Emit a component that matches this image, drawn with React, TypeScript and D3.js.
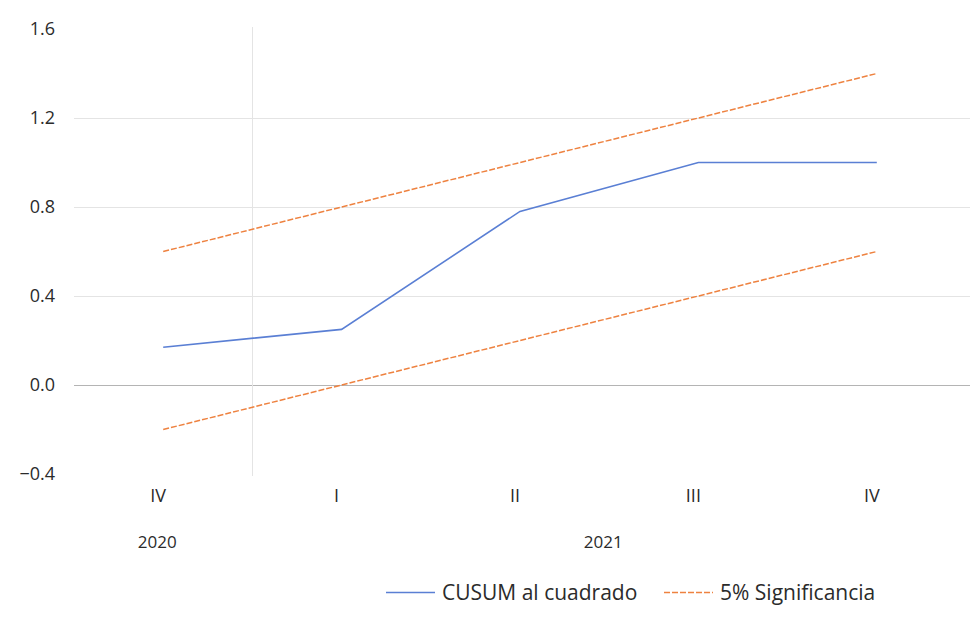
import { useEffect, useRef } from 'react';
import * as d3 from 'd3';

const quarters = ['IV', 'I', 'II', 'III', 'IV'];
const years = [
  { label: '2020', from: 0, to: 0 },
  { label: '2021', from: 1, to: 4 },
];
const cusum = [0.17, 0.25, 0.78, 1.0, 1.0];
const upperBand = [0.6, 0.8, 1.0, 1.2, 1.4];
const lowerBand = [-0.2, 0.0, 0.2, 0.4, 0.6];
const yTicks = [-0.4, 0.0, 0.4, 0.8, 1.2, 1.6];

const size = { width: 976, height: 618 };
const plot = { left: 74, right: 966, top: 29, bottom: 474 };

const color = {
  cusum: '#5a7fd4',
  band: '#ee8240',
  grid: '#e4e4e4',
  zero: '#b4b4b4',
  text: '#2b2b2b',
};

const FONT = '"Open Sans", "Noto Sans", sans-serif';

const App = () => {
  const ref = useRef<SVGSVGElement>(null);

  useEffect(() => {
    const svg = d3.select(ref.current);
    svg.selectAll('*').remove();

    const idx = quarters.map((_, i) => i);
    const xScale = d3.scaleBand<number>().domain(idx).range([plot.left, plot.right]);
    const xc = (i: number) => (xScale(i) || 0) + xScale.bandwidth() / 2;
    const yScale = d3.scaleLinear().domain([-0.4, 1.6]).range([plot.bottom, plot.top]);

    // horizontal grid (no lines at the ends)
    svg
      .append('g')
      .selectAll('line')
      .data(yTicks.filter(t => t > -0.4 && t < 1.6))
      .join('line')
      .attr('x1', plot.left)
      .attr('x2', 970)
      .attr('y1', d => Math.round(yScale(d)) + 0.5)
      .attr('y2', d => Math.round(yScale(d)) + 0.5)
      .attr('stroke', d => (d === 0 ? color.zero : color.grid))
      .attr('stroke-width', 1);

    // year separator
    const sep = Math.round(xScale(1) || 0) + 0.5;
    svg
      .append('line')
      .attr('x1', sep)
      .attr('x2', sep)
      .attr('y1', plot.top - 2)
      .attr('y2', plot.bottom + 2)
      .attr('stroke', color.grid);

    // y labels
    svg
      .append('g')
      .selectAll('text')
      .data(yTicks)
      .join('text')
      .attr('x', 55)
      .attr('y', d => yScale(d))
      .attr('dy', '0.36em')
      .attr('text-anchor', 'end')
      .attr('font-family', FONT)
      .attr('font-size', 18)
      .attr('fill', color.text)
      .text(d => (d < 0 ? '\u2212' : '') + Math.abs(d).toFixed(1));

    // quarter labels
    svg
      .append('g')
      .selectAll('text')
      .data(quarters)
      .join('text')
      .attr('x', (_, i) => xc(i) - 5)
      .attr('y', 502)
      .attr('text-anchor', 'middle')
      .attr('font-family', FONT)
      .attr('font-size', 18)
      .attr('fill', color.text)
      .text(d => d);

    // year labels
    svg
      .append('g')
      .selectAll('text')
      .data(years)
      .join('text')
      .attr('x', d => (xc(d.from) + xc(d.to)) / 2 - 6)
      .attr('y', 548)
      .attr('text-anchor', 'middle')
      .attr('font-family', FONT)
      .attr('font-size', 17)
      .attr('fill', color.text)
      .text(d => d.label);

    const line = d3
      .line<number>()
      .x((_, i) => xc(i))
      .y(d => yScale(d));

    [upperBand, lowerBand].forEach(band => {
      svg
        .append('path')
        .attr('d', line(band))
        .attr('fill', 'none')
        .attr('stroke', color.band)
        .attr('stroke-width', 1.5)
        .attr('stroke-dasharray', '6,2');
    });

    svg
      .append('path')
      .attr('d', line(cusum))
      .attr('fill', 'none')
      .attr('stroke', color.cusum)
      .attr('stroke-width', 1.6);

    // legend
    const legend = svg.append('g').attr('transform', 'translate(386,592)');
    const items = [
      { label: 'CUSUM al cuadrado', stroke: color.cusum, dash: null, x: 0 },
      { label: '5% Significancia', stroke: color.band, dash: '6,2', x: 278 },
    ];
    items.forEach(it => {
      legend
        .append('line')
        .attr('x1', it.x)
        .attr('x2', it.x + 49)
        .attr('y1', 0.5)
        .attr('y2', 0.5)
        .attr('stroke', it.stroke)
        .attr('stroke-width', 1.5)
        .attr('stroke-dasharray', it.dash);
      legend
        .append('text')
        .attr('x', it.x + 56)
        .attr('y', 0)
        .attr('dy', '0.36em')
        .attr('font-family', FONT)
        .attr('font-size', 21)
        .attr('fill', color.text)
        .text(it.label);
    });
  }, []);

  return (
    <svg
      ref={ref}
      width={size.width}
      height={size.height}
      style={{ position: 'absolute', left: 0, top: 0, background: '#fff' }}
    />
  );
};

export default App;
